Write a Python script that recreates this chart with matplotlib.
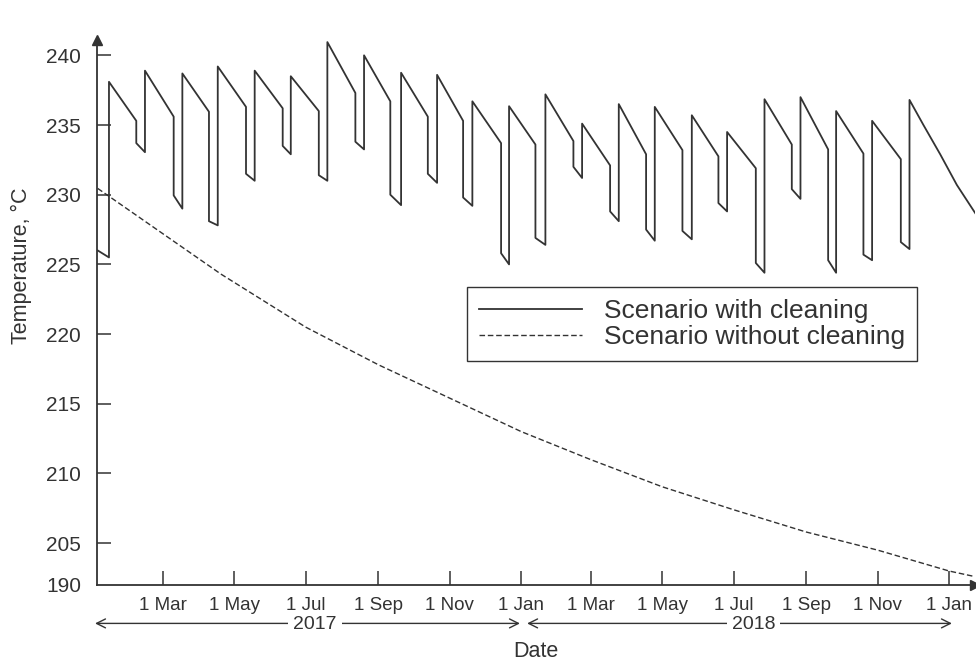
import numpy as np
import pandas as pd
import matplotlib
matplotlib.use("Agg")
import matplotlib.pyplot as plt
import matplotlib.dates as mdates
import matplotlib.transforms as mtransforms

plt.rcParams["font.family"] = ["Liberation Sans", "DejaVu Sans"]

start = pd.Timestamp("2017-01-01")

# scenario with cleaning: days after 1 Jan 2017 / temperature (vertical steps repeat the day)
clean_days = [3.6, 13.2, 13.2, 36.5, 36.5, 43.9, 43.9, 68.4, 68.4, 75.8,
              75.8, 98.5, 98.5, 106.0, 106.0, 130.1, 130.1, 137.5, 137.5, 161.4,
              161.4, 168.3, 168.3, 192.2, 192.2, 199.5, 199.5, 223.4, 223.4, 230.8,
              230.8, 253.2, 253.2, 262.4, 262.4, 285.2, 285.2, 293.1, 293.1, 315.3,
              315.3, 323.2, 323.2, 347.7, 347.7, 354.5, 354.5, 377.0, 377.0, 385.5,
              385.5, 409.4, 409.4, 416.8, 416.8, 440.7, 440.7, 448.1, 448.1, 471.4,
              471.4, 478.8, 478.8, 502.4, 502.4, 510.4, 510.4, 533.1, 533.1, 540.5,
              540.5, 565.0, 565.0, 572.4, 572.4, 595.7, 595.7, 603.1, 603.1, 626.7,
              626.7, 633.5, 633.5, 656.8, 656.8, 664.2, 664.2, 688.7, 688.7, 696.1,
              696.1, 708.0, 722.3, 736.5, 752.4]
clean_temp = [226.0, 225.5, 238.1, 235.3, 233.7, 233.05, 238.9, 235.6, 229.95, 229.0,
              238.7, 235.95, 228.1, 227.8, 239.2, 236.3, 231.5, 231.0, 238.9, 236.2,
              233.5, 232.9, 238.5, 236.0, 231.4, 231.0, 240.95, 237.3, 233.8, 233.25,
              240.0, 236.7, 230.0, 229.25, 238.75, 235.6, 231.5, 230.85, 238.6, 235.3,
              229.8, 229.2, 236.7, 233.7, 225.8, 225.0, 236.35, 233.6, 226.9, 226.4,
              237.2, 233.85, 232.0, 231.2, 235.1, 232.1, 228.8, 228.1, 236.5, 232.9,
              227.5, 226.7, 236.3, 233.2, 227.4, 226.8, 235.7, 232.75, 229.4, 228.8,
              234.5, 231.9, 225.1, 224.4, 236.85, 233.6, 230.4, 229.7, 237.0, 233.25,
              225.3, 224.4, 236.0, 232.95, 225.7, 225.3, 235.3, 232.55, 226.6, 226.1,
              236.8, 235.0, 232.9, 230.7, 228.65]

# scenario without cleaning
noclean_days = [3.6, 108.8, 181, 243, 304, 365, 424, 485, 546, 608, 669, 730, 752]
noclean_temp = [230.45, 224.3, 220.5, 217.8, 215.4, 213.0, 211.0, 209.05, 207.4,
                205.8, 204.5, 203.0, 202.6]

tick_dates = ["2017-03-01", "2017-05-01", "2017-07-01", "2017-09-01", "2017-11-01",
              "2018-01-01", "2018-03-01", "2018-05-01", "2018-07-01", "2018-09-01",
              "2018-11-01", "2019-01-01"]
tick_names = ["1 Mar", "1 May", "1 Jul", "1 Sep", "1 Nov", "1 Jan",
              "1 Mar", "1 May", "1 Jul", "1 Sep", "1 Nov", "1 Jan"]
y_ticks = [205, 210, 215, 220, 225, 230, 235, 240]
y_break = 202.0   # bottom of the broken axis, labelled 190
y_break_label = "190"

years = ["2017", "2018"]
year_from = [1.3, 369.9]
year_to = [363.8, 732.3]
year_text_at = [189, 563]

col = "#333333"


def to_dates(days):
    return start + pd.to_timedelta(np.asarray(days, dtype=float), unit="D")


fig = plt.figure(figsize=(9.76, 6.61), dpi=100)
ax = fig.add_axes([0.0994, 0.115, 0.8996, 0.8245])

ax.plot(to_dates(clean_days), clean_temp, color=col, lw=1.3,
        label="Scenario with cleaning")
ax.plot(to_dates(noclean_days), noclean_temp, color=col, lw=1.0,
        dashes=(4, 2), label="Scenario without cleaning")

ax.set_xlim(to_dates([3.0])[0], to_dates([752.0])[0])
ax.set_ylim(y_break, 241.1)

ax.set_xticks(pd.to_datetime(tick_dates))
ax.set_xticklabels(tick_names)
ax.set_yticks([y_break] + y_ticks)
ax.set_yticklabels([y_break_label] + [str(v) for v in y_ticks])

ax.tick_params(axis="both", direction="in", length=10, width=1.1, color=col,
               labelcolor=col)
ax.tick_params(axis="x", pad=8.5, labelsize=13.5)
ax.tick_params(axis="y", pad=11.5, labelsize=15)
ax.yaxis.get_major_ticks()[0].tick1line.set_visible(False)

for s in ["top", "right"]:
    ax.spines[s].set_visible(False)
for s in ["left", "bottom"]:
    ax.spines[s].set_color(col)
    ax.spines[s].set_linewidth(1.3)

# arrow heads on the axes
ax.plot(1, 0, ">", color=col, ms=7, transform=ax.transAxes, clip_on=False)
ax.plot(0, 1, "^", color=col, ms=7, transform=ax.transAxes, clip_on=False)

ax.set_ylabel("Temperature, °C", fontsize=15.5, color=col)
ax.yaxis.set_label_coords(-0.074, 0.585)
ax.set_xlabel("Date", fontsize=15.5, color=col)
ax.xaxis.set_label_coords(0.5, -0.103)

# year spans below the date ticks
trans = mtransforms.blended_transform_factory(ax.transData, ax.transAxes)
for name, a, b, m in zip(years, year_from, year_to, year_text_at):
    xa, xb, xm = mdates.date2num(to_dates([a, b, m]).to_pydatetime())
    ax.annotate("", xy=(xb, -0.0705), xytext=(xa, -0.0705), xycoords=trans,
                textcoords=trans, annotation_clip=False,
                arrowprops=dict(arrowstyle="<->", color=col, lw=1.0,
                                shrinkA=0, shrinkB=0, mutation_scale=16))
    ax.text(xm, -0.072, name, transform=trans, ha="center", va="center",
            fontsize=14, color=col,
            bbox=dict(fc="white", ec="none", pad=3.5))

leg = ax.legend(loc="upper left", bbox_to_anchor=(0.4214, 0.5468),
                borderaxespad=0, fontsize=19, handlelength=3.9,
                handletextpad=0.85, labelspacing=0.08, borderpad=0.45,
                fancybox=False, edgecolor=col, framealpha=1)
leg.get_frame().set_linewidth(1.0)
for t in leg.get_texts():
    t.set_color(col)

fig.savefig("out.png", dpi=100)
